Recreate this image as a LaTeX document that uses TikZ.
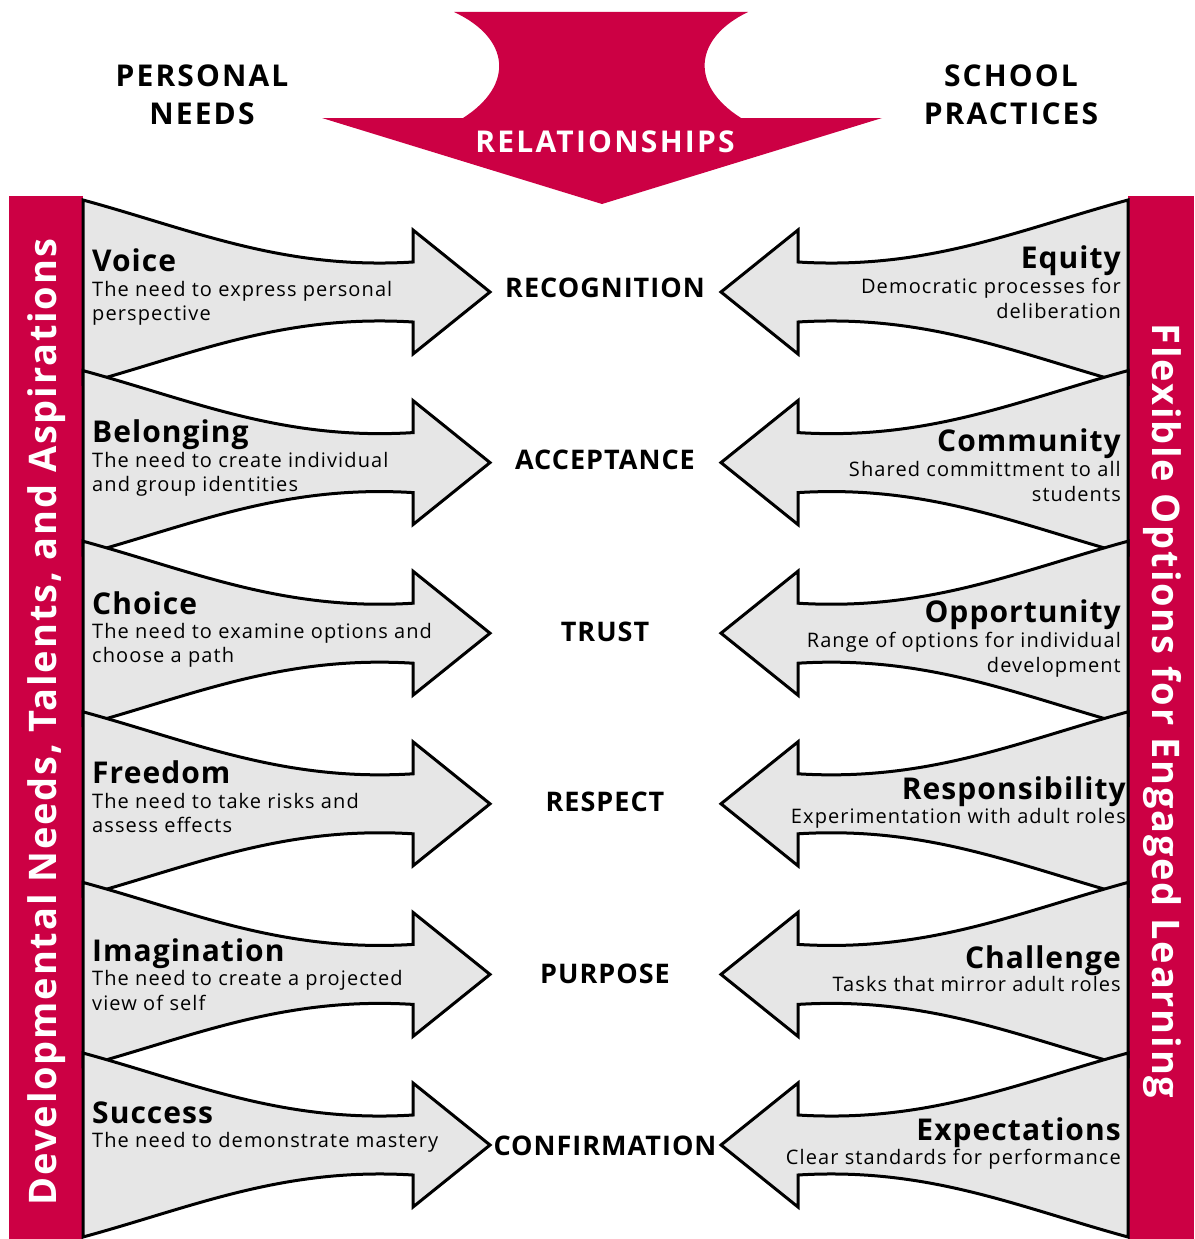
\documentclass[tikz,border=0pt]{standalone}
\usepackage{fontspec}
\setmainfont{Open Sans}
\definecolor{crim}{HTML}{CC0044}
\definecolor{agray}{HTML}{E6E6E6}
\newcommand{\fs}[1]{\fontsize{#1}{#1}\selectfont}
\newcommand{\ls}[1]{\addfontfeatures{LetterSpace=#1}}
\newcommand{\larrow}[1]{%
  \draw[arrowshape] (83,#1-92) .. controls (193,#1-62) and (283,#1-22) .. (413,#1-30)
    -- (413,#1-62) -- (490,#1) -- (413,#1+62) -- (413,#1+30)
    .. controls (283,#1+22) and (193,#1+62) .. (83,#1+92) -- cycle;}
\newcommand{\rarrow}[1]{%
  \draw[arrowshape] (1128,#1-92) .. controls (1018,#1-62) and (928,#1-22) .. (798,#1-30)
    -- (798,#1-62) -- (721,#1) -- (798,#1+62) -- (798,#1+30)
    .. controls (928,#1+22) and (1018,#1+62) .. (1128,#1+92) -- cycle;}
\begin{document}
\begin{tikzpicture}[x=1pt,y=-1pt,
  arrowshape/.style={draw=black, fill=agray, line width=3pt, line join=miter},
  ttl/.style={inner sep=0pt, font=\fs{30}\bfseries\ls{3.5}},
  sub/.style={inner sep=0pt, font=\fs{20}\ls{5.5}},
  lt/.style={anchor=base west},
  rt/.style={anchor=base east},
  mid/.style={inner sep=0pt, anchor=center, font=\fs{27}\bfseries\ls{3.7}},
  head/.style={inner sep=0pt, anchor=base, font=\fs{30}\bfseries\ls{7}},
  bartext/.style={inner sep=0pt, anchor=base, text=white, font=\fs{38}\bfseries\ls{4.8}}]
\useasboundingbox (0,0) rectangle (1194,1239);
\fill[white] (0,0) rectangle (1194,1239);
% top arrow
\fill[crim] (454,12) -- (748,12) .. controls (694,38) and (689,85) .. (741,118)
  -- (882,118) -- (602,204) -- (322,118) -- (463,118)
  .. controls (515,85) and (510,38) .. (454,12) -- cycle;
\node[inner sep=0pt, anchor=base, text=white, font=\fs{30}\bfseries\ls{7.5}] (rel) at (605,152) {RELATIONSHIPS};
% headings
\node[head] (pn1) at (202,86) {PERSONAL};
\node[head] (pn2) at (202,124) {NEEDS};
\node[head] (sp1) at (1011,86) {SCHOOL};
\node[head] (sp2) at (1011,124) {PRACTICES};
% bars
\fill[crim] (9,196) rectangle (83,1239);
\fill[crim] (1128,196) rectangle (1194,1239);
\node[bartext, rotate=90] (lbar) at (56,722) {Developmental Needs, Talents, and Aspirations};
\node[bartext, rotate=-90] (rbar) at (1152,711) {Flexible Options for Engaged Learning};
% arrows
\larrow{292}\larrow{462.6}\larrow{633.2}\larrow{803.8}\larrow{974.4}\larrow{1145}
\rarrow{292}\rarrow{462.6}\rarrow{633.2}\rarrow{803.8}\rarrow{974.4}\rarrow{1145}
% center labels
\node[mid] (m1) at (605,288) {RECOGNITION};
\node[mid] (m2) at (605,460) {ACCEPTANCE};
\node[mid] (m3) at (605,632) {TRUST};
\node[mid] (m4) at (605,802) {RESPECT};
\node[mid] (m5) at (605,974) {PURPOSE};
\node[mid] (m6) at (605,1146) {CONFIRMATION};
% left texts
\node[ttl,lt] (l1t) at (92,271) {Voice};
\node[sub,lt] (l1a) at (92,296) {The need to express personal};
\node[sub,lt] (l1b) at (92,320) {perspective};
\node[ttl,lt] (l2t) at (92,442) {Belonging};
\node[sub,lt] (l2a) at (92,467) {The need to create individual};
\node[sub,lt] (l2b) at (92,491) {and group identities};
\node[ttl,lt] (l3t) at (92,614) {Choice};
\node[sub,lt] (l3a) at (92,638) {The need to examine options and};
\node[sub,lt] (l3b) at (92,662) {choose a path};
\node[ttl,lt] (l4t) at (92,783) {Freedom};
\node[sub,lt] (l4a) at (92,808) {The need to take risks and};
\node[sub,lt] (l4b) at (92,832) {assess effects};
\node[ttl,lt] (l5t) at (92,961) {Imagination};
\node[sub,lt] (l5a) at (92,985) {The need to create a projected};
\node[sub,lt] (l5b) at (92,1010) {view of self};
\node[ttl,lt] (l6t) at (92,1123) {Success};
\node[sub,lt] (l6a) at (92,1147) {The need to demonstrate mastery};
% right texts
\node[ttl,rt] (r1t) at (1121,268) {Equity};
\node[sub,rt] (r1a) at (1121,293) {Democratic processes for};
\node[sub,rt] (r1b) at (1121,318) {deliberation};
\node[ttl,rt] (r2t) at (1121,451) {Community};
\node[sub,rt] (r2a) at (1121,476) {Shared committment to all};
\node[sub,rt] (r2b) at (1121,501) {students};
\node[ttl,rt] (r3t) at (1121,622) {Opportunity};
\node[sub,rt] (r3a) at (1121,647) {Range of options for individual};
\node[sub,rt] (r3b) at (1121,672) {development};
\node[ttl,rt] (r4t) at (1126,799) {Responsibility};
\node[sub,rt] (r4a) at (1126,823) {Experimentation with adult roles};
\node[ttl,rt] (r5t) at (1121,968) {Challenge};
\node[sub,rt] (r5a) at (1121,991) {Tasks that mirror adult roles};
\node[ttl,rt] (r6t) at (1121,1140) {Expectations};
\node[sub,rt] (r6a) at (1121,1164) {Clear standards for performance};
\end{tikzpicture}
\end{document}
